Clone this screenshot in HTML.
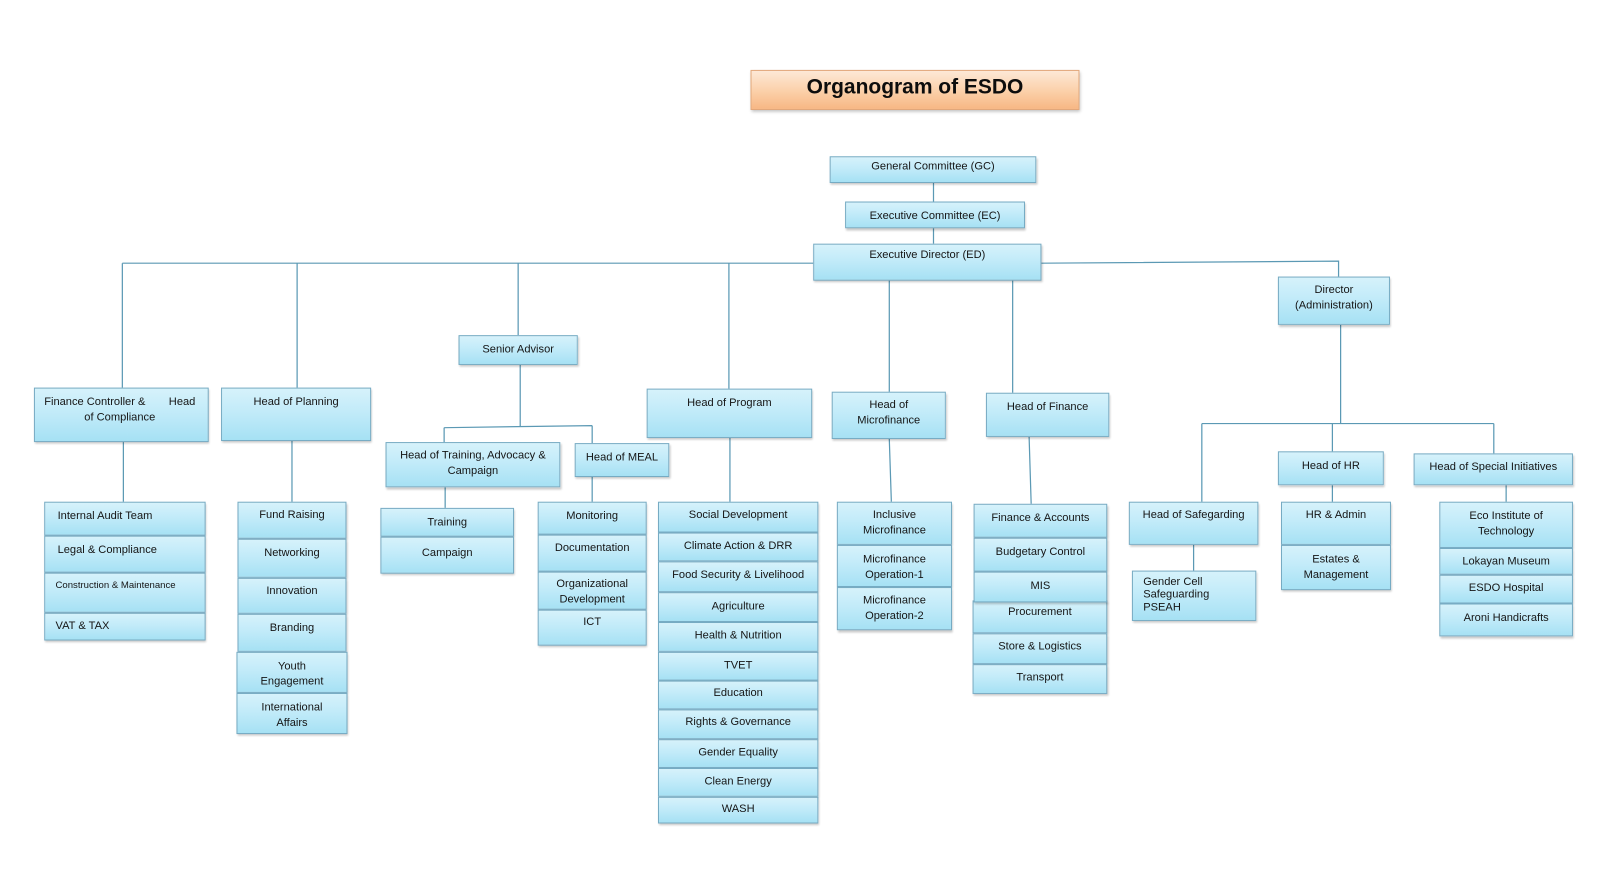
<!DOCTYPE html>
<html><head><meta charset="utf-8"><style>
html,body{margin:0;padding:0;background:#fff;width:1611px;height:884px;overflow:hidden}
#w{position:absolute;left:0;top:0;width:1567px;height:860px;transform:scale(1.02808);transform-origin:0 0;font-family:"Liberation Sans",sans-serif;color:#151515}
.b{position:absolute;box-sizing:border-box;border:1px solid #76abc3;background:linear-gradient(#d6f2fb,#c2ebf9 45%,#a6e1f4);box-shadow:1px 2px 2px rgba(0,0,0,.22);text-align:center;font-size:10.8px;line-height:15px;white-space:nowrap}
.l{text-align:left}
svg{position:absolute;left:0;top:0}
#t{position:absolute;left:730px;top:68px;width:320px;height:39px;box-sizing:border-box;border:1px solid #e2a77a;background:linear-gradient(#fde8d6,#fbcfa8 55%,#f7b784);box-shadow:1px 2px 3px rgba(0,0,0,.25);text-align:center;font-weight:bold;font-size:20.4px;line-height:33px;color:#0d0d0d}
</style></head><body><div id="w">
<svg width="1567" height="860" stroke="#5b99b4" stroke-width="1.2" fill="none">
<path d="M908 178V196M908 222V237"/>
<path d="M119 256H791M119 256V377M289 256V377M504 256V326M709 256V378"/>
<path d="M865 273V381M985 273V382"/>
<path d="M1013 256L1302 254V269"/>
<path d="M120 430V488M284 429V488"/>
<path d="M506 355V415M432 416L576 414M432 416V430M576 414V431"/>
<path d="M433 474V494M576 464V488M710 426V488M865 427L867 488M1001 425L1003 490"/>
<path d="M1304 316V412M1169 412H1453M1169 412V488M1296 412V439M1453 412V441"/>
<path d="M1161 530V555M1296 472V488M1465 472V488"/>
</svg>
<div id="t">Organogram of ESDO</div>

<div class="b" style="left:807px;top:152px;width:201px;height:26px;padding-top:1.5px">General Committee (GC)</div>
<div class="b" style="left:822px;top:196px;width:175px;height:26px;padding-top:5.5px">Executive Committee (EC)</div>
<div class="b" style="left:791px;top:237px;width:222px;height:36px;padding-top:2.5px">Executive Director (ED)</div>
<div class="b" style="left:1243px;top:269px;width:109px;height:47px;padding-top:4.5px">Director<br>(Administration)</div>
<div class="b" style="left:446px;top:326px;width:116px;height:29px;padding-top:5.5px">Senior Advisor</div>

<div class="b l" style="left:33px;top:377px;width:170px;height:53px;padding-top:5.5px"><div style="display:flex;justify-content:space-between;padding:0 12px 0 9px"><span>Finance Controller &amp;</span><span>Head</span></div><div style="padding-left:48px">of Compliance</div></div>
<div class="b" style="left:215px;top:377px;width:146px;height:52px;padding-top:5.5px">Head of Planning</div>
<div class="b" style="left:629px;top:378px;width:161px;height:48px;padding-top:5.5px">Head of Program</div>
<div class="b" style="left:809px;top:381px;width:111px;height:46px;padding-top:4.5px">Head of<br>Microfinance</div>
<div class="b" style="left:959px;top:382px;width:120px;height:43px;padding-top:5.5px">Head of Finance</div>
<div class="b" style="left:375px;top:430px;width:170px;height:44px;padding-top:4.5px">Head of Training, Advocacy &amp;<br>Campaign</div>
<div class="b" style="left:559px;top:431px;width:92px;height:33px;padding-top:5.5px">Head of MEAL</div>
<div class="b" style="left:1098px;top:488px;width:126px;height:42px;padding-top:4.5px">Head of Safegarding</div>
<div class="b l" style="left:1101px;top:555px;width:121px;height:49px;padding-top:3.5px;padding-left:10px;line-height:12.5px">Gender Cell<br>Safeguarding<br>PSEAH</div>
<div class="b" style="left:1243px;top:439px;width:103px;height:33px;padding-top:5.5px">Head of HR</div>
<div class="b" style="left:1375px;top:441px;width:155px;height:31px;padding-top:4.5px">Head of Special Initiatives</div>

<!-- Finance controller stack -->
<div class="b l" style="left:43px;top:488px;width:157px;height:33px;padding-top:5.5px;padding-left:12px">Internal Audit Team</div>
<div class="b l" style="left:43px;top:521px;width:157px;height:36px;padding-top:5.5px;padding-left:12px">Legal &amp; Compliance</div>
<div class="b l" style="left:43px;top:557px;width:157px;height:39px;padding-top:4px;padding-left:10px;font-size:9.3px">Construction &amp; Maintenance</div>
<div class="b l" style="left:43px;top:596px;width:157px;height:27px;padding-top:4.5px;padding-left:10px">VAT &amp; TAX</div>

<!-- Planning stack -->
<div class="b" style="left:231px;top:488px;width:106px;height:36px;padding-top:4.5px">Fund Raising</div>
<div class="b" style="left:231px;top:524px;width:106px;height:38px;padding-top:5.5px">Networking</div>
<div class="b" style="left:231px;top:562px;width:106px;height:35px;padding-top:4.5px">Innovation</div>
<div class="b" style="left:231px;top:597px;width:106px;height:37px;padding-top:5.5px">Branding</div>
<div class="b" style="left:230px;top:634px;width:108px;height:40px;padding-top:5.5px">Youth<br>Engagement</div>
<div class="b" style="left:230px;top:674px;width:108px;height:40px;padding-top:5.5px">International<br>Affairs</div>

<!-- Training stack -->
<div class="b" style="left:370px;top:494px;width:130px;height:28px;padding-top:5.5px">Training</div>
<div class="b" style="left:370px;top:522px;width:130px;height:36px;padding-top:7.5px">Campaign</div>

<!-- MEAL stack -->
<div class="b" style="left:523px;top:488px;width:106px;height:32px;padding-top:5.5px">Monitoring</div>
<div class="b" style="left:523px;top:520px;width:106px;height:36px;padding-top:4.5px">Documentation</div>
<div class="b" style="left:523px;top:556px;width:106px;height:37px;padding-top:3.5px">Organizational<br>Development</div>
<div class="b" style="left:523px;top:593px;width:106px;height:35px;padding-top:3.5px">ICT</div>

<!-- Program stack -->
<div class="b" style="left:640px;top:488px;width:156px;height:30px;padding-top:4.5px">Social Development</div>
<div class="b" style="left:640px;top:518px;width:156px;height:28px;padding-top:4.5px">Climate Action &amp; DRR</div>
<div class="b" style="left:640px;top:546px;width:156px;height:30px;padding-top:4.5px">Food Security &amp; Livelihood</div>
<div class="b" style="left:640px;top:576px;width:156px;height:29px;padding-top:5.5px">Agriculture</div>
<div class="b" style="left:640px;top:605px;width:156px;height:29px;padding-top:4.5px">Health &amp; Nutrition</div>
<div class="b" style="left:640px;top:634px;width:156px;height:28px;padding-top:4.5px">TVET</div>
<div class="b" style="left:640px;top:662px;width:156px;height:28px;padding-top:3.5px">Education</div>
<div class="b" style="left:640px;top:690px;width:156px;height:29px;padding-top:3.5px">Rights &amp; Governance</div>
<div class="b" style="left:640px;top:719px;width:156px;height:28px;padding-top:4.5px">Gender Equality</div>
<div class="b" style="left:640px;top:747px;width:156px;height:28px;padding-top:4.5px">Clean Energy</div>
<div class="b" style="left:640px;top:775px;width:156px;height:26px;padding-top:3.5px">WASH</div>

<!-- Microfinance stack -->
<div class="b" style="left:814px;top:488px;width:112px;height:42px;padding-top:4.5px">Inclusive<br>Microfinance</div>
<div class="b" style="left:814px;top:530px;width:112px;height:41px;padding-top:5.5px">Microfinance<br>Operation-1</div>
<div class="b" style="left:814px;top:571px;width:112px;height:42px;padding-top:4.5px">Microfinance<br>Operation-2</div>

<!-- Finance stack -->
<div class="b" style="left:947px;top:490px;width:130px;height:33px;padding-top:5.5px">Finance &amp; Accounts</div>
<div class="b" style="left:947px;top:523px;width:130px;height:33px;padding-top:5.5px">Budgetary Control</div>
<div class="b" style="left:946px;top:584px;width:131px;height:32px;padding-top:2.5px">Procurement</div>
<div class="b" style="left:947px;top:556px;width:130px;height:30px;padding-top:5.5px">MIS</div>
<div class="b" style="left:946px;top:616px;width:131px;height:30px;padding-top:4.5px">Store &amp; Logistics</div>
<div class="b" style="left:946px;top:646px;width:131px;height:29px;padding-top:4.5px">Transport</div>

<!-- HR stack -->
<div class="b" style="left:1246px;top:488px;width:107px;height:42px;padding-top:4.5px">HR &amp; Admin</div>
<div class="b" style="left:1246px;top:530px;width:107px;height:44px;padding-top:5.5px">Estates &amp;<br>Management</div>

<!-- Special initiatives stack -->
<div class="b" style="left:1400px;top:488px;width:130px;height:45px;padding-top:5.5px">Eco Institute of<br>Technology</div>
<div class="b" style="left:1400px;top:533px;width:130px;height:26px;padding-top:4.5px">Lokayan Museum</div>
<div class="b" style="left:1400px;top:559px;width:130px;height:28px;padding-top:4.5px">ESDO Hospital</div>
<div class="b" style="left:1400px;top:587px;width:130px;height:32px;padding-top:5.5px">Aroni Handicrafts</div>
</div></body></html>
